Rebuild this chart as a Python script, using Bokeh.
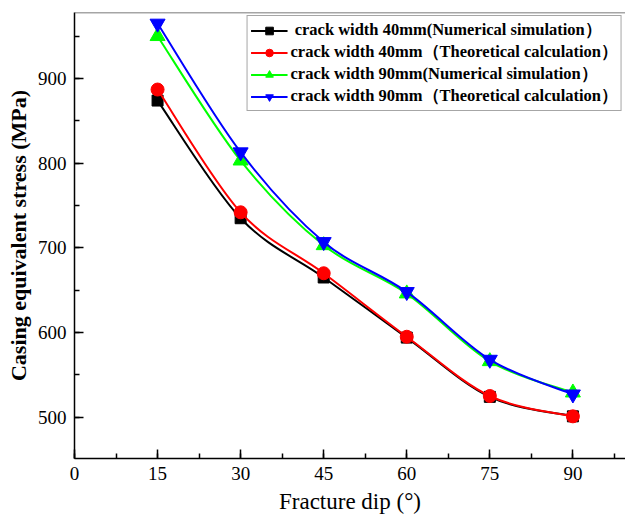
from bokeh.plotting import figure
from bokeh.models import (Range1d, SingleIntervalTicker, Span, Legend, LegendItem,
                          ColumnDataSource)
from bokeh.embed import file_html
from bokeh.resources import INLINE

# Fracture dip angles (degrees) and casing equivalent stress (MPa)
dip = [15, 30, 45, 60, 75, 90]
w40_sim = [874, 735, 665, 594, 524, 501]
w40_theory = [887, 742, 670, 595, 525, 501]
w90_sim = [950, 803, 703, 646, 566, 529]
w90_theory = [965, 813, 707, 648, 568, 527]

series_values = [w40_sim, w40_theory, w90_sim, w90_theory]
series_labels = [
    " crack width 40mm(Numerical simulation）",
    "crack width 40mm（Theoretical calculation）",
    "crack width 90mm(Numerical simulation）",
    "crack width 90mm（Theoretical calculation）",
]
colors = ["#000000", "#ff0000", "#00ff00", "#0000ff"]
markers = ["square", "circle", "triangle", "inverted_triangle"]
marker_sizes = [11, 13, 15, 15]

SERIF = "Liberation Serif"


def smooth_segments(xs, ys):
    """Catmull-Rom curve through the points, expressed as cubic Bezier pieces."""
    n = len(xs)
    seg = dict(x0=[], y0=[], x1=[], y1=[], cx0=[], cy0=[], cx1=[], cy1=[])
    for i in range(n - 1):
        a = max(i - 1, 0)
        d = min(i + 2, n - 1)
        seg["x0"].append(xs[i]); seg["y0"].append(ys[i])
        seg["x1"].append(xs[i + 1]); seg["y1"].append(ys[i + 1])
        seg["cx0"].append(xs[i] + (xs[i + 1] - xs[a]) / 6.0)
        seg["cy0"].append(ys[i] + (ys[i + 1] - ys[a]) / 6.0)
        seg["cx1"].append(xs[i + 1] - (xs[d] - xs[i]) / 6.0)
        seg["cy1"].append(ys[i + 1] - (ys[d] - ys[i]) / 6.0)
    return seg


y_top = 978
p = figure(width=625, height=522,
           x_range=Range1d(0, 99.5), y_range=Range1d(451.2, y_top),
           output_backend="svg", toolbar_location=None,
           min_border_left=74, min_border_right=0,
           min_border_top=12, min_border_bottom=64)

p.background_fill_color = "white"
p.border_fill_color = "white"
p.outline_line_color = None
p.xgrid.grid_line_color = None
p.ygrid.grid_line_color = None

# top frame edge
p.add_layout(Span(location=y_top, dimension="width",
                  line_color="#4d4d4d", line_width=1.5))

items = []
for vals, label, color, marker, size in zip(series_values, series_labels,
                                            colors, markers, marker_sizes):
    curve = p.bezier(source=ColumnDataSource(smooth_segments(dip, vals)),
                     x0="x0", y0="y0", x1="x1", y1="y1",
                     cx0="cx0", cy0="cy0", cx1="cx1", cy1="cy1",
                     line_color=color, line_width=2)
    pts = p.scatter(dip, vals, marker=marker, size=size,
                    fill_color=color, line_color=color)
    items.append(LegendItem(label=label, renderers=[curve, pts]))

legend = Legend(items=items, location="top_right",
                border_line_color="#4d4d4d", border_line_width=1.5,
                background_fill_alpha=1.0,
                label_text_font=SERIF, label_text_font_style="bold",
                label_text_font_size="16.5px", label_text_color="black",
                label_text_line_height=1.0,
                glyph_width=37, glyph_height=19, label_height=16,
                spacing=0, padding=3, margin=3, label_standoff=3)
p.add_layout(legend)

# axes
p.xaxis.ticker = SingleIntervalTicker(interval=15, num_minor_ticks=2)
p.yaxis.ticker = SingleIntervalTicker(interval=100, num_minor_ticks=2)
for ax in (p.xaxis, p.yaxis):
    ax.axis_line_color = "black"
    ax.axis_line_width = 1.5
    ax.major_tick_line_color = "black"
    ax.minor_tick_line_color = "black"
    ax.major_tick_line_width = 1.5
    ax.minor_tick_line_width = 1.5
    ax.major_tick_in = 9
    ax.major_tick_out = 0
    ax.minor_tick_in = 5
    ax.minor_tick_out = 0
    ax.major_label_text_font = SERIF
    ax.major_label_text_font_size = "19px"
    ax.major_label_text_color = "black"
    ax.axis_label_text_font = SERIF
    ax.axis_label_text_color = "black"

p.xaxis.axis_label = "Fracture dip (°)"
p.xaxis.axis_label_text_font_style = "normal"
p.xaxis.axis_label_text_font_size = "23px"
p.xaxis.major_label_standoff = 8
p.xaxis.axis_label_standoff = 6

p.yaxis.axis_label = "Casing equivalent stress (MPa)"
p.yaxis.axis_label_text_font_style = "bold"
p.yaxis.axis_label_text_font_size = "22px"
p.yaxis.major_label_standoff = 8
p.yaxis.axis_label_standoff = 4

open("out.html", "w").write(file_html(p, INLINE))
